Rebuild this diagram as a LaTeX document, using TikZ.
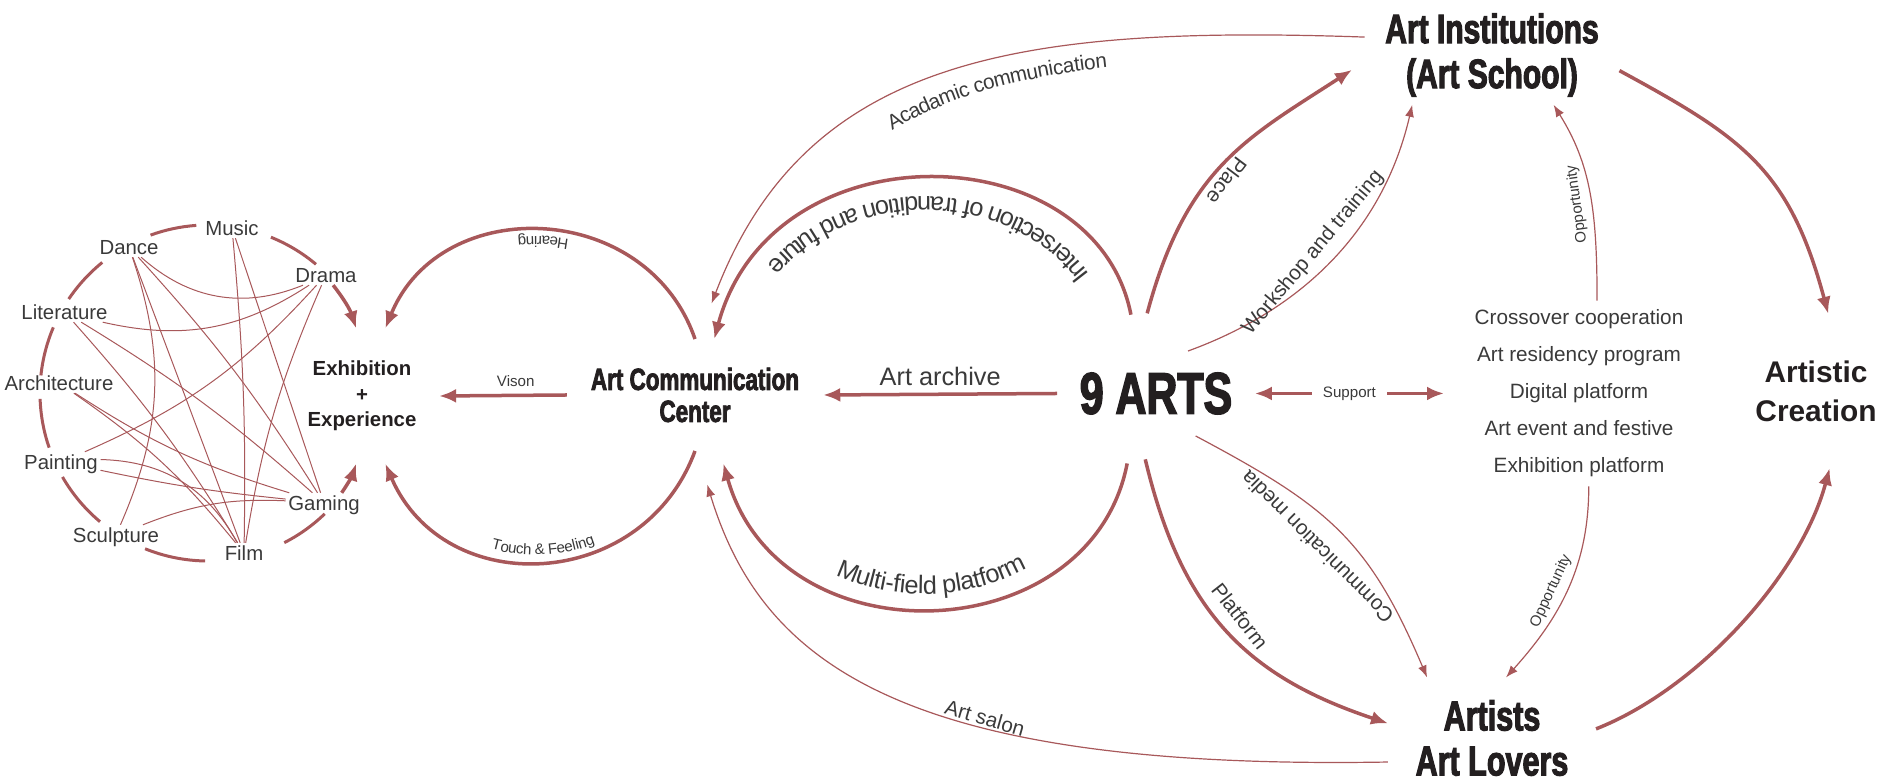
\documentclass[tikz,border=0pt]{standalone}
\usepackage{fontspec}
\setmainfont{Liberation Sans}
\newfontfamily\condfont{Liberation Sans}[FakeStretch=0.73, BoldFeatures={FakeBold=2.5}]
\usetikzlibrary{arrows.meta}
\usetikzlibrary{decorations.text}
\usepackage{xcolor}

\definecolor{artred}{RGB}{168,88,90}
\definecolor{inkdark}{RGB}{35,31,32}
\definecolor{inkgray}{RGB}{58,58,58}

\newcommand\midfont{\fontsize{7.2pt}{8.6pt}\selectfont}
\newcommand\medfont{\fontsize{5.9pt}{7pt}\selectfont}
\newcommand\tinyfont{\fontsize{4.3pt}{5pt}\selectfont}

\begin{document}
\begin{tikzpicture}
\tikzset{bigarr/.style = {draw=artred, line width=0.035cm, >={Latex[length=0.17cm,width=0.14cm]}}}
\tikzset{thinarr/.style = {draw=artred, line width=0.012cm, >={Latex[length=0.12cm,width=0.09cm]}}}
\tikzset{ringarc/.style = {draw=artred, line width=0.03cm}}
\tikzset{webline/.style = {draw=artred, line width=0.01cm}}
\tikzset{artname/.style = {font=\fontsize{5.8pt}{7pt}\selectfont, text=inkgray, inner sep=0.02cm, text height=0.15cm, text depth=0cm}}
\tikzset{hub/.style = {text=inkdark, align=center}}
\tikzset{edgetag/.style = {font=\medfont, text=inkgray, inner sep=0.02cm}}
\tikzset{tinytag/.style = {font=\tinyfont, text=inkgray, inner sep=0.02cm}}

\useasboundingbox (0,0) rectangle (18.83,7.80);

% the nine arts
\foreach \n/\t/\x/\y in {music/Music/2.32/5.52, dance/Dance/1.29/5.33, drama/Drama/3.26/5.05,
  literature/Literature/0.645/4.68, architecture/Architecture/0.59/3.97, painting/Painting/0.61/3.18,
  gaming/Gaming/3.24/2.77, sculpture/Sculpture/1.16/2.45, film/Film/2.44/2.27}
  {\node[artname] (\n) at (\x,\y) {\t};}

\foreach \a/\b in {94/110, 50/68, 129/146, 157/174, 182/199, 210/230, 248/269, 297/314}
  {\draw[ringarc] (2.08,3.87) ++(\a:1.68) arc[start angle=\a, end angle=\b, radius=1.68];}

\foreach \a/\b/\c in {dance/drama/-32, literature/drama/-23, dance/sculpture/21, dance/gaming/5,
  dance/film/0, music/film/3, music/gaming/0, drama/painting/12, drama/film/-7,
  literature/gaming/5, literature/film/5, architecture/gaming/-8, architecture/film/8,
  painting/gaming/-3, painting/film/30, sculpture/gaming/12}
  {\draw[webline] (\a) to[bend left=\c] (\b);}

% main nodes
\node[hub, font=\bfseries\fontsize{5.8pt}{7.26pt}\selectfont, inner xsep=0.22cm, inner ysep=0.32cm] (exh) at (3.62,3.84) {Exhibition\\+\\Experience};
\node[hub, font=\condfont\bfseries\fontsize{8.74pt}{9.1pt}\selectfont, inner xsep=0.235cm, inner ysep=0.28cm] (acc) at (6.95,3.85) {Art Communication\\Center};
\node[hub, font=\condfont\bfseries\fontsize{16.7pt}{20pt}\selectfont, inner xsep=0.22cm, inner ysep=0.21cm] (arts) at (11.56,3.865) {9 ARTS};
\node[hub, font=\condfont\bfseries\fontsize{11.7pt}{12.8pt}\selectfont, inner xsep=0.2cm, inner ysep=0.075cm] (inst) at (14.92,7.25) {Art Institutions\\(Art School)};
\node[hub, font=\condfont\bfseries\fontsize{11.9pt}{12.8pt}\selectfont, inner xsep=0.27cm, inner ysep=0.22cm] (lovers) at (14.92,0.42) {Artists\\Art Lovers};
\node[hub, font=\bfseries\fontsize{8.5pt}{11.1pt}\selectfont, inner xsep=0.05cm, inner ysep=0.46cm] (creation) at (18.16,3.89) {Artistic\\Creation};
\node[align=center, text=inkgray, font=\fontsize{5.9pt}{10.53pt}\selectfont, inner xsep=0.30cm, inner ysep=0.085cm] (services) at (15.79,3.865)
  {Crossover cooperation\\Art residency program\\Digital platform\\Art event and festive\\Exhibition platform};

% into exhibition
\draw[bigarr,->] (drama.-55) to[bend left=10] (exh.95);
\draw[bigarr,->] (gaming.30) to[bend right=8] (exh.-95);
\draw[bigarr,->] (acc.west) -- node[pos=0.4, above=0.05cm, tinytag] (lvison) {Vison} (exh.east);
\draw[bigarr,->, postaction={decorate, decoration={text along path, text={|\tinyfont|Hearing}, text align=center, raise=0.06cm, text color=inkgray}}]
  (acc.north) .. controls +(109:1.47) and +(67.6:1.47) .. (exh.71);
\draw[bigarr,<-, postaction={decorate, decoration={text along path, text={|\tinyfont|Touch {\&} Feeling}, text align=center, raise=0.07cm, text color=inkgray}}]
  (exh.-71) .. controls +(-66.6:1.5) and +(-110.2:1.5) .. (acc.south);

% 9 arts to the centre
\draw[bigarr,->] (arts.west) -- node[above=0.035cm, font=\midfont, text=inkgray, inner sep=0.03cm] (larchive) {Art archive} (acc.east);
\draw[bigarr,->, shorten <=0.37cm, postaction={decorate, decoration={text along path, text={|\midfont|Intersection of trandition and future}, text align=center, raise=0.14cm, text color=inkgray}}]
  (arts.113) .. controls +(101:2.22) and +(75:2.22) .. (acc.71);
\draw[bigarr,<-, shorten <=0.13cm, shorten >=0.28cm, postaction={decorate, decoration={text along path, text={|\midfont|Multi-field platform}, text align=center, raise=0.1cm, text color=inkgray}}]
  (acc.-66) .. controls +(-74.4:2.2) and +(-100.9:2.2) .. (arts.-119);
\draw[thinarr,<-, shorten <=0.38cm, postaction={decorate, decoration={text along path, text={|\medfont|Acadamic communication}, text align={left indent=3.0cm}, raise=-0.26cm, text color=inkgray}}]
  (acc.87) .. controls +(69:3.0) and +(178:3.5) .. (inst.172);
\draw[thinarr,->, shorten >=0.35cm] (lovers.193) .. controls +(181:4.9) and +(-73:2.2) .. (acc.-88);

% 9 arts to the right
\draw[bigarr,->, shorten <=0.39cm, shorten >=0.15cm] (arts.114) .. controls +(75:1.9) and +(213:1.4) .. (inst.183);
\draw[thinarr,->] (arts.53) .. controls +(20:1.2) and +(257:1.3) .. (inst.212);
\draw[thinarr,->] (arts.-47) .. controls +(-28:1.5) and +(113:1.5) .. (lovers.137);
\draw[bigarr,->, shorten <=0.24cm] (arts.-111) .. controls +(-76.6:1.8) and +(161.6:1.5) .. (lovers.172);
\draw[bigarr,<->] (arts.east) -- node[fill=white, tinytag, inner xsep=0.11cm] (lsupport) {Support} (services.west);
\draw[thinarr,->] (services.79) .. controls +(90:0.9) and +(-58:0.7) .. (inst.-39);
\draw[thinarr,->] (services.-84) .. controls +(-90:0.8) and +(48:0.8) .. (lovers.77);
\draw[bigarr,->] (inst.-7) .. controls +(-28.5:1.4) and +(105:1.5) .. (creation.81);
\draw[bigarr,->] (lovers.5) .. controls +(21.5:1.1) and +(-105:1.1) .. (creation.-80);

% edge labels
\node[edgetag, rotate=233] (lplace) at (12.27,5.99) {Place};
\node[edgetag, rotate=50] (lworkshop) at (13.13,5.27) {Workshop and training};
\node[edgetag, rotate=135] (lmedia) at (13.17,2.33) {Communication media};
\node[edgetag, rotate=-52] (lplatform) at (12.40,1.64) {Platform};
\node[edgetag, rotate=-16] (lsalon) at (9.85,0.62) {Art salon};
\node[tinytag, rotate=98] (lopptop) at (15.77,5.76) {Opportunity};
\node[tinytag, rotate=65] (loppbot) at (15.51,1.89) {Opportunity};

\end{tikzpicture}
\end{document}
